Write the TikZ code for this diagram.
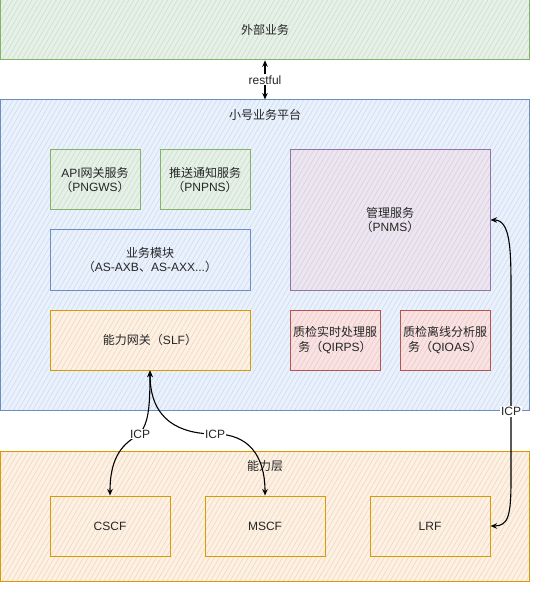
\documentclass[tikz,border=0pt]{standalone}
\usepackage{fontspec}
\setmainfont{Liberation Sans}
\newfontfamily\cjk{Noto Sans CJK SC}
\usetikzlibrary{patterns.meta,arrows.meta}
\definecolor{gfill}{HTML}{D5E8D4}\definecolor{gline}{HTML}{82B366}
\definecolor{bfill}{HTML}{DAE8FC}\definecolor{bline}{HTML}{6C8EBF}
\definecolor{ofill}{HTML}{FFE6CC}\definecolor{oline}{HTML}{D79B00}
\definecolor{pfill}{HTML}{E1D5E7}\definecolor{pline}{HTML}{9673A6}
\definecolor{rfill}{HTML}{F8CECC}\definecolor{rline}{HTML}{B85450}
\definecolor{hatchgray}{HTML}{C4CCDA}
\newcommand\zh[1]{{\cjk #1}}
\begin{document}
\begin{tikzpicture}[x=1pt,y=-1pt,
  every node/.style={font=\fontsize{12}{14.5}\selectfont, text=black!85},
  hbox/.style 2 args={draw=#2, line width=1pt, rectangle, inner sep=0pt, align=center,
     preaction={fill=#1!60!white},
     pattern={Lines[angle=60,distance=4.2pt,line width=0.6pt]}, pattern color=#1!55!hatchgray},
  conn/.style={draw=black, line width=1.1pt, {Stealth[open,length=6.5pt,width=5.5pt,line width=1pt]}-{Stealth[open,length=6.5pt,width=5.5pt,line width=1pt]}},
  lbl/.style={fill=white, inner sep=1pt},
  txt/.style={align=center, inner sep=0pt}]
\useasboundingbox (0,0) rectangle (542,593);
% containers
\node[hbox={gfill}{gline}, minimum width=529, minimum height=60] (ext) at (265,30) {};
\node[txt] (extlbl) at (ext.center) {\zh{外部业务}};
\node[hbox={bfill}{bline}, minimum width=529, minimum height=310] (plat) at (265,255) {};
\node[txt] (platlbl) at (265,115) {\zh{小号业务平台}};
\node[hbox={ofill}{oline}, minimum width=529, minimum height=130] (cap) at (265,516) {};
\node[txt] (caplbl) at (265,466) {\zh{能力层}};
% platform services
\node[hbox={gfill}{gline}, minimum width=90, minimum height=60] (api) at (95,180) {API\zh{网关服务}\\\zh{（}PNGWS\zh{）}};
\node[hbox={gfill}{gline}, minimum width=90, minimum height=60] (push) at (205,180) {\zh{推送通知服务}\\\zh{（}PNPNS\zh{）}};
\node[hbox={bfill}{bline}, minimum width=200, minimum height=60] (biz) at (150,260) {\zh{业务模块}\\\zh{（}AS-AXB\zh{、}AS-AXX...\zh{）}};
\node[hbox={ofill}{oline}, minimum width=200, minimum height=60] (slf) at (150,340) {\zh{能力网关（}SLF\zh{）}};
\node[hbox={pfill}{pline}, minimum width=200, minimum height=140] (pnms) at (390,220) {\zh{管理服务}\\\zh{（}PNMS\zh{）}};
\node[hbox={rfill}{rline}, minimum width=90, minimum height=60] (qirps) at (335,340) {\zh{质检实时处理服}\\\zh{务（}QIRPS\zh{）}};
\node[hbox={rfill}{rline}, minimum width=90, minimum height=60] (qioas) at (445,340) {\zh{质检离线分析服}\\\zh{务（}QIOAS\zh{）}};
% capability layer
\node[hbox={ofill}{oline}, minimum width=120, minimum height=60] (cscf) at (110,526) {CSCF};
\node[hbox={ofill}{oline}, minimum width=120, minimum height=60] (mscf) at (265,526) {MSCF};
\node[hbox={ofill}{oline}, minimum width=120, minimum height=60] (lrf) at (430,526) {LRF};
% connectors
\draw[conn] (ext.south) -- node[lbl] {restful} (plat.north);
\draw[conn] (slf.south) .. controls +(0,40) and (148,422) .. (140,434)
   node[lbl] {ICP} .. controls (124,443) and (110,455) .. (cscf.north);
\draw[conn] (slf.south) .. controls +(0,50) and (180,434) .. (215,434)
   node[lbl] {ICP} .. controls (248,434) and (265,455) .. (mscf.north);
\draw[conn] (pnms.east) .. controls +(20,0) and +(0,-40) .. (511,290) -- node[lbl, pos=0.64] {ICP} (511,480) .. controls +(0,35) and +(18,0) .. (lrf.east);
\end{tikzpicture}
\end{document}
